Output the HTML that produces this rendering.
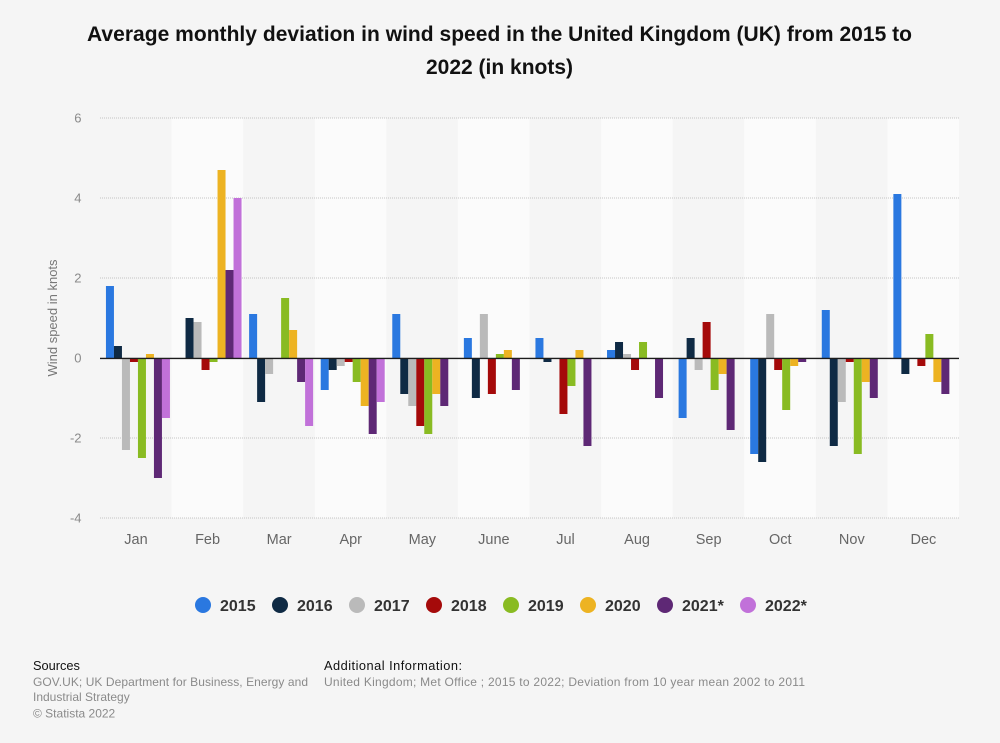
<!DOCTYPE html>
<html lang="en">
<head>
<meta charset="utf-8">
<title>Average monthly deviation in wind speed in the UK</title>
<style>
html,body{margin:0;padding:0;background:#f5f5f5;}
body{width:1000px;height:743px;overflow:hidden;position:relative;font-family:"Liberation Sans",sans-serif;}
svg{position:absolute;left:0;top:0;}
text{font-family:"Liberation Sans",sans-serif;}
</style>
</head>
<body>
<svg id="chart" width="1000" height="743" viewBox="0 0 1000 743" xmlns="http://www.w3.org/2000/svg">
  <text x="499.5" y="41" text-anchor="middle" font-size="21" font-weight="700" fill="#111" textLength="825" lengthAdjust="spacing">Average monthly deviation in wind speed in the United Kingdom (UK) from 2015 to</text>
  <text x="499.5" y="74" text-anchor="middle" font-size="21" font-weight="700" fill="#111">2022 (in knots)</text>
  <g id="bands"></g>
  <g id="grid"></g>
  <g id="bars"></g>
  <line id="zero" stroke="#1c1c1c" stroke-width="1.4"></line>
  <g id="yticks"></g>
  <g id="xticks"></g>
  <text transform="translate(57,318) rotate(-90)" text-anchor="middle" font-size="13" fill="#777">Wind speed in knots</text>
  <g id="legend"></g>
  <text x="33" y="670" font-size="12.8" fill="#111">Sources</text>
  <text x="33" y="686" font-size="12" fill="#8a8a8a" textLength="275" lengthAdjust="spacing">GOV.UK; UK Department for Business, Energy and</text>
  <text x="33" y="701" font-size="12" fill="#8a8a8a">Industrial Strategy</text>
  <text x="33" y="717.5" font-size="12" fill="#8a8a8a">© Statista 2022</text>
  <text x="324" y="670" font-size="12.8" fill="#111" textLength="138" lengthAdjust="spacing">Additional Information:</text>
  <text x="324" y="686" font-size="12" fill="#8a8a8a" textLength="481" lengthAdjust="spacing">United Kingdom; Met Office ; 2015 to 2022; Deviation from 10 year mean 2002 to 2011</text>
</svg>
<script>
var months = ["Jan","Feb","Mar","Apr","May","June","Jul","Aug","Sep","Oct","Nov","Dec"];
var seriesNames = ["2015","2016","2017","2018","2019","2020","2021*","2022*"];
var seriesColors = ["#2a78e0","#0f2a44","#bababa","#a50a0a","#89bb22","#edb322","#5e2875","#c171d9"];
var yTickValues = [6,4,2,0,-2,-4];
var s2015 = [1.8,null,1.1,-0.8,1.1,0.5,0.5,0.2,-1.5,-2.4,1.2,4.1];
var s2016 = [0.3,1,-1.1,-0.3,-0.9,-1,-0.1,0.4,0.5,-2.6,-2.2,-0.4];
var s2017 = [-2.3,0.9,-0.4,-0.2,-1.2,1.1,0,0.1,-0.3,1.1,-1.1,0];
var s2018 = [-0.1,-0.3,0,-0.1,-1.7,-0.9,-1.4,-0.3,0.9,-0.3,-0.1,-0.2];
var s2019 = [-2.5,-0.1,1.5,-0.6,-1.9,0.1,-0.7,0.4,-0.8,-1.3,-2.4,0.6];
var s2020 = [0.1,4.7,0.7,-1.2,-0.9,0.2,0.2,0,-0.4,-0.2,-0.6,-0.6];
var s2021 = [-3,2.2,-0.6,-1.9,-1.2,-0.8,-2.2,-1,-1.8,-0.1,-1,-0.9];
var s2022 = [-1.5,4,-1.7,-1.1,null,null,null,null,null,null,null,null];
var allSeries = [s2015,s2016,s2017,s2018,s2019,s2020,s2021,s2022];

var NS = "http://www.w3.org/2000/svg";
var plotLeft = 100, plotRight = 959, plotTop = 118, plotBottom = 518;
var yMax = 6, yMin = -4;
var bandW = (plotRight - plotLeft) / months.length;
var barW = 8, barOffset = 5.95;

function yScale(v){ return plotTop + (yMax - v) / (yMax - yMin) * (plotBottom - plotTop); }
function bandX(i){ return plotLeft + i * bandW; }
function barX(i, s){ return bandX(i) + barOffset + s * barW; }
function mk(tag, attrs, parent){
  var el = document.createElementNS(NS, tag);
  for (var k in attrs) el.setAttribute(k, attrs[k]);
  parent.appendChild(el);
  return el;
}
var bandsG = document.getElementById("bands");
var gridG = document.getElementById("grid");
var barsG = document.getElementById("bars");
var yG = document.getElementById("yticks");
var xG = document.getElementById("xticks");
var legG = document.getElementById("legend");

months.forEach(function(m, i){
  if (i % 2 === 1) {
    var b = mk("rect", {x: bandX(i), y: plotTop, width: bandW, height: plotBottom - plotTop, fill: "#fbfbfb"}, bandsG);
    
    
  }
  var t = mk("text", {x: bandX(i) + bandW / 2 + 0.2, y: 544, "text-anchor": "middle", "font-size": 14.5, fill: "#666"}, xG);
  t.textContent = m;
  
  
});

yTickValues.forEach(function(v){
  var y = yScale(v);
  if (v !== 0) {
    var g = mk("line", {x1: plotLeft, x2: plotRight, y1: y, y2: y, stroke: "#c4c4c4", "stroke-width": 1, "stroke-dasharray": "1 1"}, gridG);
    
    
  }
  var t = mk("text", {x: 81.5, y: y + 4.5, "text-anchor": "end", "font-size": 13, fill: "#8a8a8a"}, yG);
  t.textContent = String(v);
  
  
});

allSeries.forEach(function(values, s){
  values.forEach(function(v, i){
    if (v === null || v === 0) return;
    var y0 = yScale(0), y1 = yScale(v);
    var r = mk("rect", {x: barX(i, s), y: Math.min(y0, y1), width: barW, height: Math.abs(y1 - y0), fill: seriesColors[s]}, barsG);
    
    
  });
});

var zero = document.getElementById("zero");
zero.setAttribute("x1", plotLeft);
zero.setAttribute("x2", plotRight);
zero.setAttribute("y1", yScale(0) + 0.4);
zero.setAttribute("y2", yScale(0) + 0.4);

var legendStart = 203, legendStep = 77, legendStarExtra = 6;
seriesNames.forEach(function(n, s){
  var cx = legendStart + s * legendStep + (s === 7 ? legendStarExtra : 0);
  var g = mk("g", {}, legG);
  
  
  var c = mk("circle", {cx: cx, cy: 605, r: 8, fill: seriesColors[s]}, g);
  
  
  var t = mk("text", {x: cx + 17, y: 611, "font-size": 16, "font-weight": 700, fill: "#333"}, g);
  t.textContent = n;
  
  
});
</script>
</body>
</html>
